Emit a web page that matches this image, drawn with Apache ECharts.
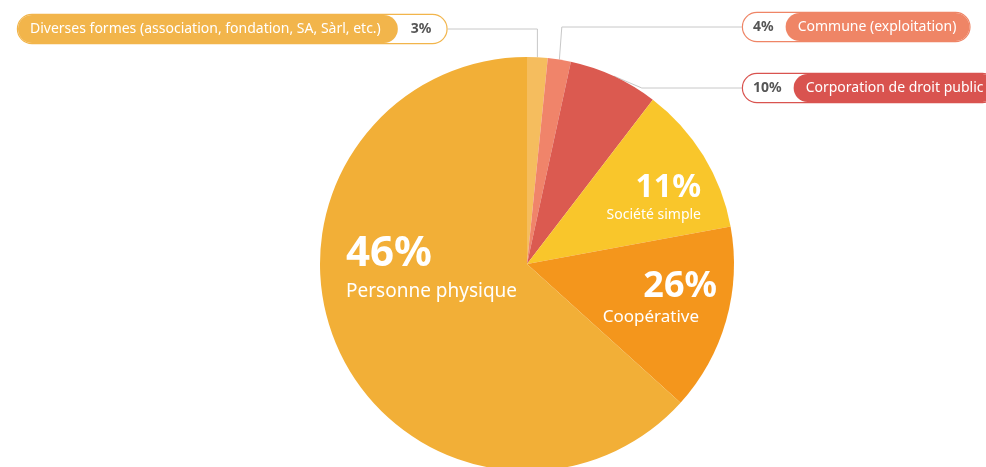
<!DOCTYPE html>
<html>
<head>
<meta charset="utf-8">
<script src="https://cdn.jsdelivr.net/npm/echarts@6/dist/echarts.min.js"></script>
<style>
  html, body { margin: 0; padding: 0; background: #fff; }
  #chart { width: 986px; height: 467px; }
</style>
</head>
<body>
<div id="chart"></div>
<script>
// categories, clockwise from 12 o'clock
const categories = [
  'Diverses formes (association, fondation, SA, Sàrl, etc.)',
  'Commune (exploitation)',
  'Corporation de droit public',
  'Société simple',
  'Coopérative',
  'Personne physique'
]
// percentages printed on the chart
const shownPercent = [3, 4, 10, 11, 26, 46]
// slice sizes as drawn in the picture (angle share, %)
const sliceShare = [1.6, 1.8, 7.0, 11.7, 14.6, 63.3]
const sliceColors = ['#F5BD5E', '#F0846A', '#DB5A50', '#F9C62B', '#F4961C', '#F2AF37']
const pillColors = ['#F2B54B', '#EF8566', '#D9534F']

const FONT = '"Noto Sans"'

// label placement (layout only)
const labelPlace = [
  { x: 18, y: 29, align: 'left', verticalAlign: 'middle' },
  { x: 743, y: 27, align: 'left', verticalAlign: 'middle' },
  { x: 743, y: 88, align: 'left', verticalAlign: 'middle' },
  { x: 701, y: 170, align: 'right', verticalAlign: 'top' },
  { x: 717, y: 267, align: 'right', verticalAlign: 'top' },
  { x: 346, y: 229, align: 'left', verticalAlign: 'top' }
]
const guideLen = [93, 180, 100]

function pillLabel(i) {
  const c = pillColors[i]
  return {
    show: true,
    position: 'outside',
    backgroundColor: '#fff',
    borderColor: c,
    borderWidth: 1.2,
    borderRadius: 14,
    padding: 0,
    formatter: i === 0
      ? '{name|' + categories[i] + '}{pct|' + shownPercent[i] + '%}'
      : '{pct|' + shownPercent[i] + '%}{name|' + categories[i] + '}',
    rich: {
      name: {
        color: '#fff', backgroundColor: c, borderRadius: 14,
        fontFamily: FONT, fontSize: 14, padding: [7, i === 0 ? 17 : 13, 7, 12]
      },
      pct: {
        color: '#555', fontFamily: FONT, fontSize: 14, fontWeight: 'bold',
        padding: i === 0 ? [0, 15, 0, 13] : [0, 12, 0, 10]
      }
    }
  }
}

function bigLabel(i, big, bigLh, small, smallLh, smallPad) {
  return {
    show: true,
    position: 'inside',
    formatter: '{big|' + shownPercent[i] + '%}\n{small|' + categories[i] + '}',
    rich: {
      big: { color: '#fff', fontFamily: FONT, fontWeight: 'bold', fontSize: big, lineHeight: bigLh },
      small: { color: '#fff', fontFamily: FONT, fontSize: small, lineHeight: smallLh, padding: [0, smallPad, 0, 0] }
    }
  }
}

const labels = [
  pillLabel(0), pillLabel(1), pillLabel(2),
  bigLabel(3, 32, 36, 14, 18, 0),
  bigLabel(4, 36, 40, 17, 20, 18),
  bigLabel(5, 42, 50, 19, 26, 0)
]

const pieData = categories.map((name, i) => ({
  name: name,
  value: sliceShare[i],
  itemStyle: { color: sliceColors[i] },
  label: labels[i],
  labelLine: i < 3
    ? { show: true, length: 10, length2: guideLen[i], lineStyle: { color: '#c8c8c8', width: 1 } }
    : { show: false }
}))

const chart = echarts.init(document.getElementById('chart'))
chart.setOption({
  animation: false,
  backgroundColor: '#fff',
  series: [{
    type: 'pie',
    center: [527, 264],
    radius: 207,
    startAngle: 90,
    clockwise: true,
    avoidLabelOverlap: false,
    emphasis: { disabled: true },
    itemStyle: { borderWidth: 0 },
    labelLayout: function(params) {
      return labelPlace[params.dataIndex]
    },
    data: pieData
  }]
})
</script>
</body>
</html>
